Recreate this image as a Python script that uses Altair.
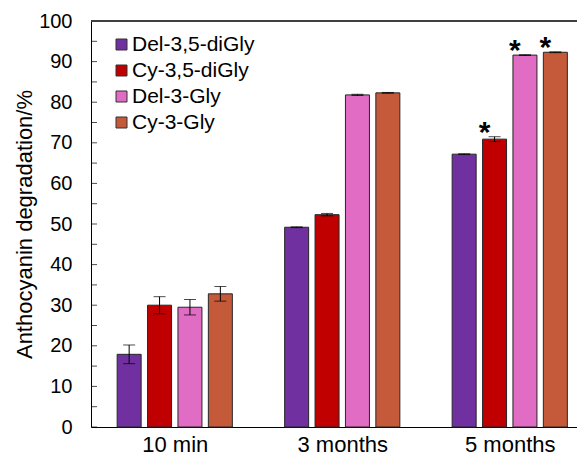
import json
import altair as alt
import pandas as pd

FONT = "Liberation Sans"

groups = ["10 min", "3 months", "5 months"]
series = ["Del-3,5-diGly", "Cy-3,5-diGly", "Del-3-Gly", "Cy-3-Gly"]
colors = ["#7030A0", "#C00000", "#E06CC4", "#C55A3B"]

del_35 = [17.9, 49.2, 67.2]
cy_35 = [30.0, 52.3, 70.9]
del_3 = [29.5, 81.8, 91.6]
cy_3 = [32.8, 82.3, 92.3]

del_35_err = [2.3, 0.1, 0.1]
cy_35_err = [2.1, 0.3, 0.6]
del_3_err = [1.9, 0.15, 0.1]
cy_3_err = [1.8, 0.1, 0.1]

del_35_sig = ["", "", ""]
cy_35_sig = ["", "", "*"]
del_3_sig = ["", "", "*"]
cy_3_sig = ["", "", "*"]

y_major = list(range(0, 101, 10))
y_minor = list(range(0, 101, 5))

vals = [del_35, cy_35, del_3, cy_3]
errs = [del_35_err, cy_35_err, del_3_err, cy_3_err]
sigs = [del_35_sig, cy_35_sig, del_3_sig, cy_3_sig]

rows = []
for si, s in enumerate(series):
    for gi, g in enumerate(groups):
        rows.append({"group": g, "gi": gi, "series": s, "si": si,
                     "value": vals[si][gi], "err": errs[si][gi],
                     "sig": sigs[si][gi]})
df = pd.DataFrame(rows)
ticks_df = pd.DataFrame({"t": y_minor})

W = 486
H = 406
XMAX = W / 167.5

base = alt.Chart(df).transform_calculate(
    pos="datum.gi + 0.5 + (datum.si - 1.5) * 0.1815",
    lo="datum.value - datum.err",
    hi="datum.value + datum.err",
)

label_expr = json.dumps(groups) + "[floor(datum.value)]"

xenc = alt.X("pos:Q",
             scale=alt.Scale(domain=[0, XMAX], nice=False, zero=False, padding=0),
             axis=alt.Axis(values=[0.5, 1.5, 2.5], labelExpr=label_expr,
                           title=None, ticks=False, tickSize=0, grid=False,
                           domainColor="black", labelFontSize=22,
                           labelFont=FONT, labelColor="black",
                           labelPadding=7, labelFlush=False))

yscale = alt.Scale(domain=[0, 100], nice=False)

bars = base.mark_bar(width=24, stroke="#262626", strokeWidth=1).encode(
    x=xenc,
    y=alt.Y("value:Q", scale=yscale,
            axis=alt.Axis(values=y_major, ticks=False, tickSize=0, grid=False,
                          domainColor="black", labelFontSize=20,
                          labelFont=FONT, labelColor="black", labelPadding=19,
                          title="Anthocyanin degradation/%", titleFontSize=22,
                          titleFont=FONT, titleFontWeight="normal",
                          titleColor="black", titlePadding=2)),
    color=alt.Color("series:N", sort=series,
                    scale=alt.Scale(domain=series, range=colors),
                    legend=alt.Legend(orient="none", legendX=20, legendY=13,
                                      title=None, symbolType="square",
                                      symbolSize=121, symbolStrokeColor="#333333",
                                      symbolStrokeWidth=1, labelFontSize=21,
                                      labelFont=FONT, labelColor="black",
                                      rowPadding=4, labelOffset=0, padding=0)),
)

err_rule = base.mark_rule(color="black", strokeWidth=1).encode(
    x="pos:Q", y="lo:Q", y2="hi:Q")
cap_hi = base.mark_tick(orient="horizontal", size=12, thickness=1,
                        color="black").encode(x="pos:Q", y="hi:Q")
cap_lo = base.mark_tick(orient="horizontal", size=12, thickness=1,
                        color="black").encode(x="pos:Q", y="lo:Q")

stars = base.mark_text(fontSize=30, fontWeight="bold", font=FONT, color="black",
                       dx=-10, dy=5, baseline="alphabetic").encode(
    x="pos:Q", y="hi:Q", text="sig:N")

inner_ticks = alt.Chart(ticks_df).mark_tick(
    orient="horizontal", size=6, thickness=1, color="black").encode(
    x=alt.value(3), y=alt.Y("t:Q", scale=yscale))

top_line = alt.Chart(ticks_df).mark_rule(color="#404040", strokeWidth=1).encode(
    y=alt.datum(100), x=alt.value(0), x2=alt.value(W))

chart = alt.layer(bars, err_rule, cap_hi, cap_lo, stars, inner_ticks, top_line).properties(
    width=W, height=H,
    autosize=alt.AutoSizeParams(type="none"),
    padding={"left": 83, "top": 13, "right": 0, "bottom": 28},
).configure_view(stroke=None).configure(background="white")

chart.save("out.html", embed_options={"renderer": "svg", "actions": False})
